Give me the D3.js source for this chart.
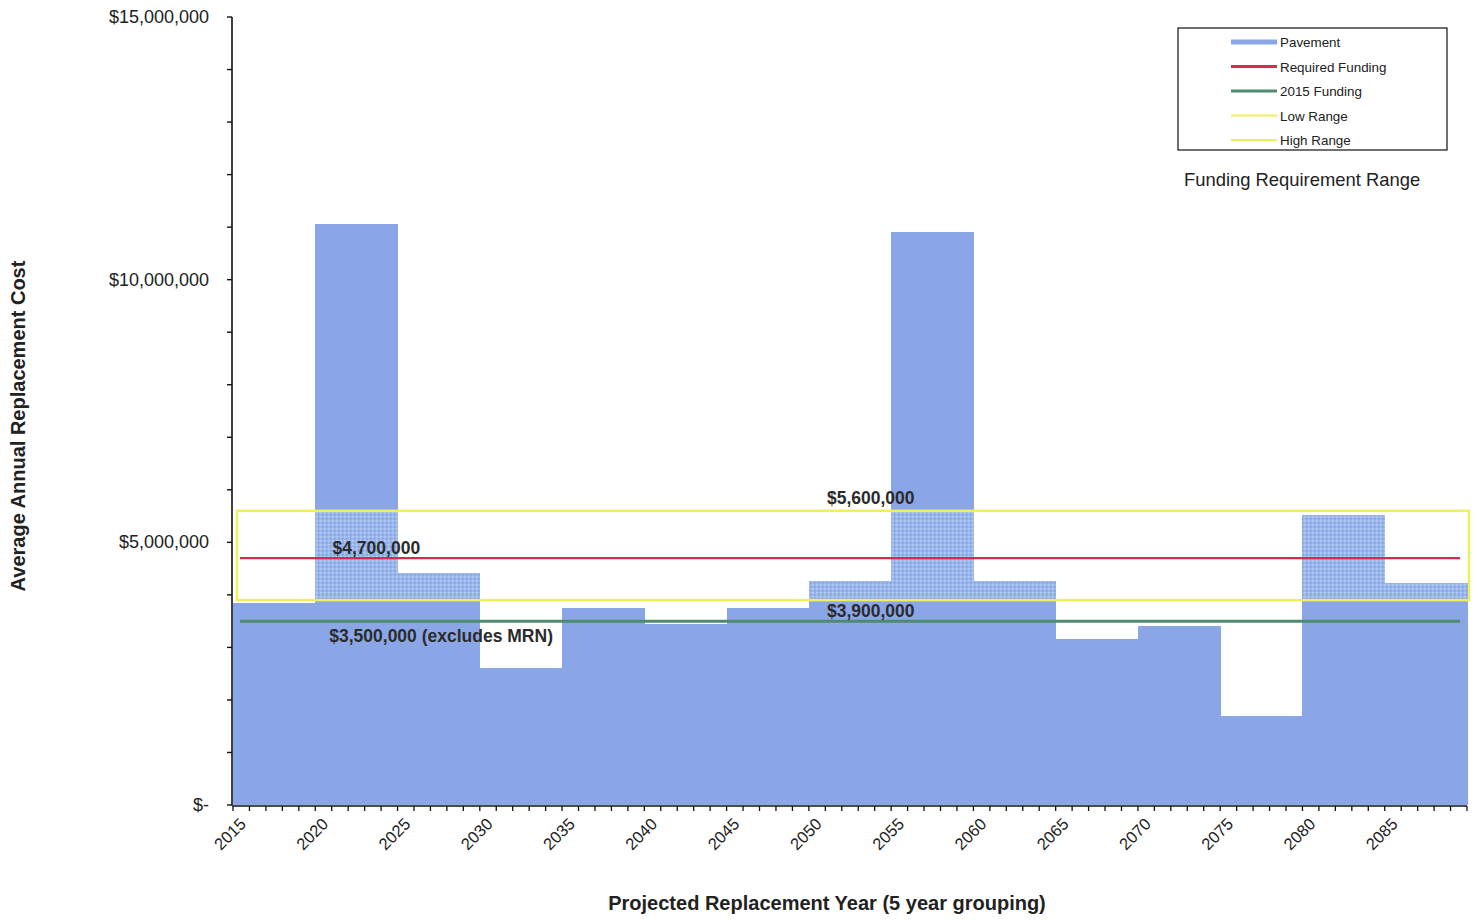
<!DOCTYPE html>
<html>
<head>
<meta charset="utf-8">
<script src="https://cdn.jsdelivr.net/npm/d3@7"></script>
<style>
  html, body { margin: 0; padding: 0; background: #fff; }
  svg { display: block; font-family: "Liberation Sans", Arial, sans-serif; }
</style>
</head>
<body>
<svg id="chart" width="1479" height="920"></svg>
<script>
// Five-year groupings (start year of each group)
const groupYears = [2015, 2020, 2025, 2030, 2035, 2040, 2045, 2050, 2055, 2060, 2065, 2070, 2075, 2080, 2085];
// Average annual pavement replacement cost per grouping ($)
const pavementCost = [3850000, 11060000, 4420000, 2610000, 3750000, 3450000, 3750000, 4260000, 10910000, 4260000, 3160000, 3410000, 1690000, 5520000, 4230000];
// Funding reference levels ($)
const requiredFunding = 4700000;
const funding2015 = 3500000;
const lowRange = 3900000;
const highRange = 5600000;
// Axis tick labels
const yTickValues = [0, 5000000, 10000000, 15000000];
const yTickLabels = ["$-", "$5,000,000", "$10,000,000", "$15,000,000"];
const xTickLabels = ["2015", "2020", "2025", "2030", "2035", "2040", "2045", "2050", "2055", "2060", "2065", "2070", "2075", "2080", "2085"];
// Legend entries
const legendNames = ["Pavement", "Required Funding", "2015  Funding", "Low Range", "High Range"];

const svg = d3.select("#chart");
const plotLeft = 233, plotRight = 1467, plotTop = 17, plotBottom = 805;

const x = d3.scaleLinear().domain([2015, 2090]).range([plotLeft, plotRight]);
const y = d3.scaleLinear().domain([0, 15000000]).range([plotBottom, plotTop]);

const barColor = "#8ba6e6";
const bandColor = "#9bb7ec";
const redColor = "#d9294f";
const greenColor = "#4e8a6e";
const yellowColor = "#eef05a";

// stippled texture used where bars fall inside the funding range band
const defs = svg.append("defs");
const pat = defs.append("pattern")
  .attr("id", "stipple").attr("width", 4).attr("height", 4)
  .attr("patternUnits", "userSpaceOnUse");
pat.append("rect").attr("width", 4).attr("height", 4).attr("fill", bandColor);
pat.append("rect").attr("x", 0).attr("y", 0).attr("width", 1.5).attr("height", 1.5).attr("fill", "#b9cdf2");
pat.append("rect").attr("x", 2).attr("y", 2).attr("width", 1.5).attr("height", 1.5).attr("fill", "#7f9de0");

defs.append("clipPath").attr("id", "bandClip")
  .append("rect")
  .attr("x", plotLeft).attr("width", plotRight - plotLeft)
  .attr("y", y(highRange)).attr("height", y(lowRange) - y(highRange));

// bars
const data = groupYears.map((yr, i) => ({ yr, v: pavementCost[i] }));
svg.append("g").attr("shape-rendering", "crispEdges")
  .selectAll("rect").data(data).join("rect")
  .attr("x", d => x(d.yr))
  .attr("width", d => x(d.yr + 5) - x(d.yr) + 0.6)
  .attr("y", d => y(d.v))
  .attr("height", d => y(0) - y(d.v))
  .attr("fill", barColor);

// textured portion inside the range band
svg.append("g").attr("clip-path", "url(#bandClip)").attr("shape-rendering", "crispEdges")
  .selectAll("rect").data(data).join("rect")
  .attr("x", d => x(d.yr))
  .attr("width", d => x(d.yr + 5) - x(d.yr) + 0.6)
  .attr("y", d => y(d.v))
  .attr("height", d => y(0) - y(d.v))
  .attr("fill", "url(#stipple)");

// funding range band outline
svg.append("rect")
  .attr("x", x(2015) + 4).attr("width", x(2090) - x(2015) - 2)
  .attr("y", y(highRange)).attr("height", y(lowRange) - y(highRange))
  .attr("fill", "none").attr("stroke", yellowColor).attr("stroke-width", 2.5);

// required funding and 2015 funding lines
svg.append("line")
  .attr("x1", x(2015) + 7).attr("x2", x(2090) - 7)
  .attr("y1", y(requiredFunding)).attr("y2", y(requiredFunding))
  .attr("stroke", redColor).attr("stroke-width", 2.2);
svg.append("line")
  .attr("x1", x(2015) + 7).attr("x2", x(2090) - 7)
  .attr("y1", y(funding2015)).attr("y2", y(funding2015))
  .attr("stroke", greenColor).attr("stroke-width", 3);

// value annotations
const annFmt = d3.format("$,");
const ann = svg.append("g").attr("font-weight", "bold").attr("font-size", 17.5).attr("fill", "#2b2b2b");
ann.append("text").attr("x", x(2021.05)).attr("y", y(requiredFunding) - 4).text(annFmt(requiredFunding));
ann.append("text").attr("x", x(2020.85)).attr("y", y(funding2015) + 21).text(annFmt(funding2015) + " (excludes MRN)");
ann.append("text").attr("x", x(2051.1)).attr("y", y(highRange) - 7).text(annFmt(highRange));
ann.append("text").attr("x", x(2051.1)).attr("y", y(lowRange) + 17).text(annFmt(lowRange));

// y axis
const yAxis = svg.append("g");
yAxis.append("line").attr("x1", plotLeft - 1).attr("x2", plotLeft - 1).attr("y1", plotTop).attr("y2", plotBottom)
  .attr("stroke", "#111").attr("stroke-width", 1.6);
yAxis.selectAll("line.tick").data(d3.range(0, 15000001, 1000000)).join("line")
  .attr("class", "tick")
  .attr("x1", plotLeft - 6).attr("x2", plotLeft - 1)
  .attr("y1", d => y(d)).attr("y2", d => y(d))
  .attr("stroke", "#111").attr("stroke-width", 1.4);
yAxis.selectAll("text").data(yTickValues).join("text")
  .attr("x", 209).attr("y", d => y(d) + 6)
  .attr("text-anchor", "end").attr("font-size", 18).attr("fill", "#222")
  .text((d, i) => yTickLabels[i]);

// x axis
const xAxis = svg.append("g");
xAxis.append("line").attr("x1", plotLeft - 1).attr("x2", plotRight).attr("y1", plotBottom + 1).attr("y2", plotBottom + 1)
  .attr("stroke", "#111").attr("stroke-width", 1.6);
xAxis.selectAll("line.tick").data(d3.range(2015, 2091, 1)).join("line")
  .attr("class", "tick")
  .attr("x1", d => x(d)).attr("x2", d => x(d))
  .attr("y1", plotBottom + 1).attr("y2", plotBottom + 6)
  .attr("stroke", "#111").attr("stroke-width", 1.3);
xAxis.selectAll("text").data(groupYears).join("text")
  .attr("transform", d => `translate(${x(d) + 14},${plotBottom + 20}) rotate(-45)`)
  .attr("text-anchor", "end").attr("font-size", 16.5).attr("fill", "#222")
  .text((d, i) => xTickLabels[i]);

// axis titles
svg.append("text")
  .attr("transform", `translate(25,${(plotTop + plotBottom) / 2 + 15}) rotate(-90)`)
  .attr("text-anchor", "middle").attr("font-weight", "bold").attr("font-size", 20).attr("fill", "#222")
  .text("Average Annual  Replacement Cost");
svg.append("text")
  .attr("x", 827).attr("y", 910)
  .attr("text-anchor", "middle").attr("font-weight", "bold").attr("font-size", 20).attr("fill", "#222")
  .text("Projected Replacement Year (5 year grouping)");

// legend
const lg = svg.append("g");
lg.append("rect").attr("x", 1178).attr("y", 28).attr("width", 269).attr("height", 122)
  .attr("fill", "#fff").attr("stroke", "#111").attr("stroke-width", 1.2);
const legendStyles = [
  { color: barColor, w: 5 },
  { color: redColor, w: 3 },
  { color: greenColor, w: 3 },
  { color: yellowColor, w: 2 },
  { color: yellowColor, w: 2 }
];
legendNames.forEach((name, i) => {
  const yy = 42 + i * 24.5;
  lg.append("line").attr("x1", 1231).attr("x2", 1277).attr("y1", yy).attr("y2", yy)
    .attr("stroke", legendStyles[i].color).attr("stroke-width", legendStyles[i].w);
  lg.append("text").attr("x", 1280).attr("y", yy + 5).attr("font-size", 13.4).attr("fill", "#222").text(name);
});
svg.append("text").attr("x", 1184).attr("y", 186).attr("font-size", 18.4).attr("fill", "#222")
  .text("Funding Requirement Range");
</script>
</body>
</html>
